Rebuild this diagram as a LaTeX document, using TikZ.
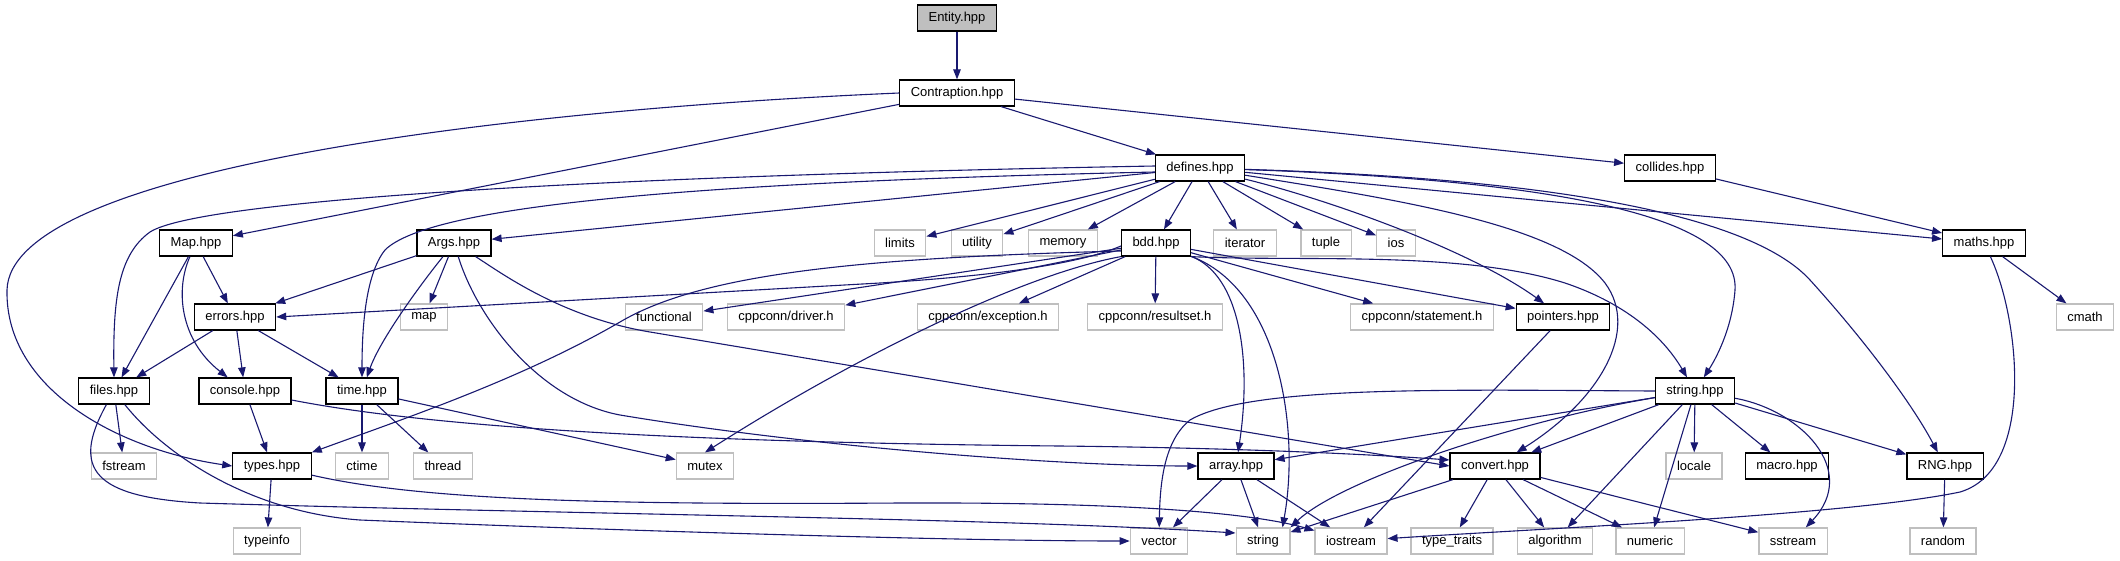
\documentclass[tikz,border=0pt]{standalone}
\usepackage{fontspec}
\setmainfont{Liberation Sans}
\usepackage{xcolor}
\usetikzlibrary{arrows.meta}

\definecolor{edgeblue}{RGB}{25,25,112}
\definecolor{grey75}{RGB}{191,191,191}

\begin{document}
\begin{tikzpicture}[
  x=1pt, y=-1pt,
  font=\fontsize{13}{15}\selectfont,
  hdr/.style={draw=black, fill=white, line width=1.2pt, minimum height=26pt, inner xsep=11pt, inner ysep=0pt},
  sys/.style={hdr, draw=grey75},
  focus/.style={hdr, fill=grey75},
  dep/.style={-{Triangle[length=10pt,width=7.5pt]}, draw=edgeblue, line width=1.1pt}
]
  \useasboundingbox (0,0) rectangle (2120,560);

  % top of the graph
  \node[focus] (entity) at (957,18) {Entity.hpp};
  \node[hdr] (contraption) at (957,93) {Contraption.hpp};
  \node[hdr] (defines) at (1200,168) {defines.hpp};
  \node[hdr] (collides) at (1670,168) {collides.hpp};

  % row 4
  \node[hdr] (maphpp) at (196,243) {Map.hpp};
  \node[hdr] (args) at (454,243) {Args.hpp};
  \node[sys] (limits) at (900,243) {limits};
  \node[sys] (utility) at (977,243) {utility};
  \node[sys] (memory) at (1063,243) {memory};
  \node[hdr] (bdd) at (1156,243) {bdd.hpp};
  \node[sys] (iterator) at (1245,243) {iterator};
  \node[sys] (tuple) at (1326,243) {tuple};
  \node[sys] (ios) at (1396,243) {ios};
  \node[hdr] (maths) at (1984,243) {maths.hpp};

  % row 5
  \node[hdr] (errors) at (235,317) {errors.hpp};
  \node[sys] (stdmap) at (424,317) {map};
  \node[sys] (functional) at (664,317) {functional};
  \node[sys] (driver) at (786,317) {cppconn/driver.h};
  \node[sys] (exception) at (988,317) {cppconn/exception.h};
  \node[sys] (resultset) at (1155,317) {cppconn/resultset.h};
  \node[sys] (statement) at (1422,317) {cppconn/statement.h};
  \node[hdr] (pointers) at (1563,317) {pointers.hpp};
  \node[sys] (cmath) at (2085,317) {cmath};

  % row 6
  \node[hdr] (files) at (114,391) {files.hpp};
  \node[hdr] (console) at (245,391) {console.hpp};
  \node[hdr] (timehpp) at (362,391) {time.hpp};
  \node[hdr] (stringhpp) at (1695,391) {string.hpp};

  % row 7
  \node[sys] (fstream) at (124,466) {fstream};
  \node[hdr] (types) at (272,466) {types.hpp};
  \node[sys] (ctime) at (362,466) {ctime};
  \node[sys] (thread) at (443,466) {thread};
  \node[sys] (mutex) at (705,466) {mutex};
  \node[hdr] (array) at (1236,466) {array.hpp};
  \node[hdr] (convert) at (1495,466) {convert.hpp};
  \node[sys] (locale) at (1694,466) {locale};
  \node[hdr] (macro) at (1787,466) {macro.hpp};
  \node[hdr] (rng) at (1945,466) {RNG.hpp};

  % row 8
  \node[sys] (typeinfo) at (267,541) {typeinfo};
  \node[sys] (vector) at (1159,541) {vector};
  \node[sys] (stdstring) at (1263,541) {string};
  \node[sys] (iostream) at (1351,541) {iostream};
  \node[sys] (typetraits) at (1452,541) {type\_traits};
  \node[sys] (algorithm) at (1555,541) {algorithm};
  \node[sys] (numeric) at (1650,541) {numeric};
  \node[sys] (sstream) at (1793,541) {sstream};
  \node[sys] (random) at (1943,541) {random};

  % straight includes
  \foreach \a/\b in {entity/contraption, contraption/maphpp, contraption/defines, contraption/collides,
      collides/maths, defines/maths, defines/args, defines/limits, defines/utility, defines/memory,
      defines/bdd, defines/iterator, defines/tuple, defines/ios,
      maphpp/errors, maphpp/files, args/errors, args/stdmap, errors/files, errors/console, errors/timehpp,
      bdd/functional, bdd/driver, bdd/exception, bdd/resultset, bdd/statement, bdd/pointers, maths/cmath,
      files/fstream, console/types, timehpp/ctime, timehpp/thread, timehpp/mutex, types/typeinfo,
      stringhpp/array, stringhpp/convert, stringhpp/algorithm, stringhpp/numeric, stringhpp/locale,
      stringhpp/macro, stringhpp/rng,
      array/vector, array/stdstring, array/iostream, convert/stdstring, convert/typetraits,
      convert/algorithm, convert/numeric, convert/sstream, pointers/iostream, rng/random} {
    \draw[dep] (\a) -- (\b);
  }

  % curved includes
  \draw[dep] (contraption.west) .. controls (500,110) and (10,170) .. (7,290)
    .. controls (5,390) and (120,450) .. (types.west);
  \draw[dep] ([yshift=2pt]defines.west) .. controls (600,176) and (200,200) .. (150,232)
    .. controls (118,255) and (113,300) .. (files.north);
  \draw[dep] ([yshift=-4pt]defines.west) .. controls (700,182) and (430,205) .. (385,250)
    .. controls (365,275) and (362,330) .. (timehpp.north);
  \draw[dep] (defines) .. controls (1330,200) and (1470,250) .. (pointers);
  \draw[dep] (defines) .. controls (1400,200) and (1560,225) .. (1605,283)
    .. controls (1640,330) and (1600,400) .. (convert);
  \draw[dep] (defines) .. controls (1550,180) and (1740,215) .. (1735,290)
    .. controls (1732,330) and (1715,360) .. (stringhpp);
  \draw[dep] (defines) .. controls (1600,180) and (1760,225) .. (1810,280)
    .. controls (1860,335) and (1910,400) .. (rng);

  \draw[dep] (maphpp) .. controls (175,290) and (180,340) .. (console);
  \draw[dep] (args) .. controls (420,285) and (380,340) .. (timehpp);
  \draw[dep] (args) .. controls (478,320) and (540,400) .. (620,415)
    .. controls (800,445) and (1050,466) .. (array.west);
  \draw[dep] (args) .. controls (500,272) and (560,317) .. (650,332) -- (convert.west);
  \draw[dep] ([yshift=-9pt]console.east) .. controls (420,425) and (650,442) .. (1060,446)
    .. controls (1250,448) and (1380,455) .. ([yshift=6pt]convert.west);

  \draw[dep] ([yshift=-3pt]bdd.west) .. controls (1070,268) and (960,278) .. (880,283) -- (errors.east);
  \draw[dep] ([yshift=-8pt]bdd.west) .. controls (850,258) and (700,275) .. (620,322)
    .. controls (520,380) and (400,420) .. (types.north east);
  \draw[dep] (bdd.south west) .. controls (1020,275) and (850,360) .. (mutex.north);
  \draw[dep] (bdd) .. controls (1240,275) and (1252,360) .. (array);
  \draw[dep] (bdd) .. controls (1280,290) and (1300,430) .. ([xshift=-8pt]stdstring.north east);
  \draw[dep] (bdd.south east) .. controls (1300,262) and (1460,250) .. (1565,283)
    .. controls (1630,305) and (1665,340) .. (stringhpp);

  \draw[dep] (stringhpp.west) .. controls (1450,390) and (1250,385) .. (1190,420)
    .. controls (1165,440) and (1160,480) .. (vector);
  \draw[dep] (stringhpp) .. controls (1520,420) and (1340,480) .. (stdstring.north east);
  \draw[dep] (stringhpp) .. controls (1800,410) and (1860,470) .. (sstream);

  \draw[dep] (files) .. controls (70,470) and (95,497) .. (200,503)
    .. controls (600,515) and (1000,518) .. ([yshift=8pt]stdstring.west);
  \draw[dep] (files) .. controls (165,455) and (250,512) .. (360,520)
    .. controls (600,530) and (950,541) .. (vector);
  \draw[dep] (types) .. controls (420,500) and (600,505) .. (900,503)
    .. controls (1150,502) and (1260,515) .. (iostream);
  \draw[dep] (maths) .. controls (2020,320) and (2035,470) .. (1960,492)
    .. controls (1850,515) and (1550,528) .. (iostream);
\end{tikzpicture}
\end{document}
